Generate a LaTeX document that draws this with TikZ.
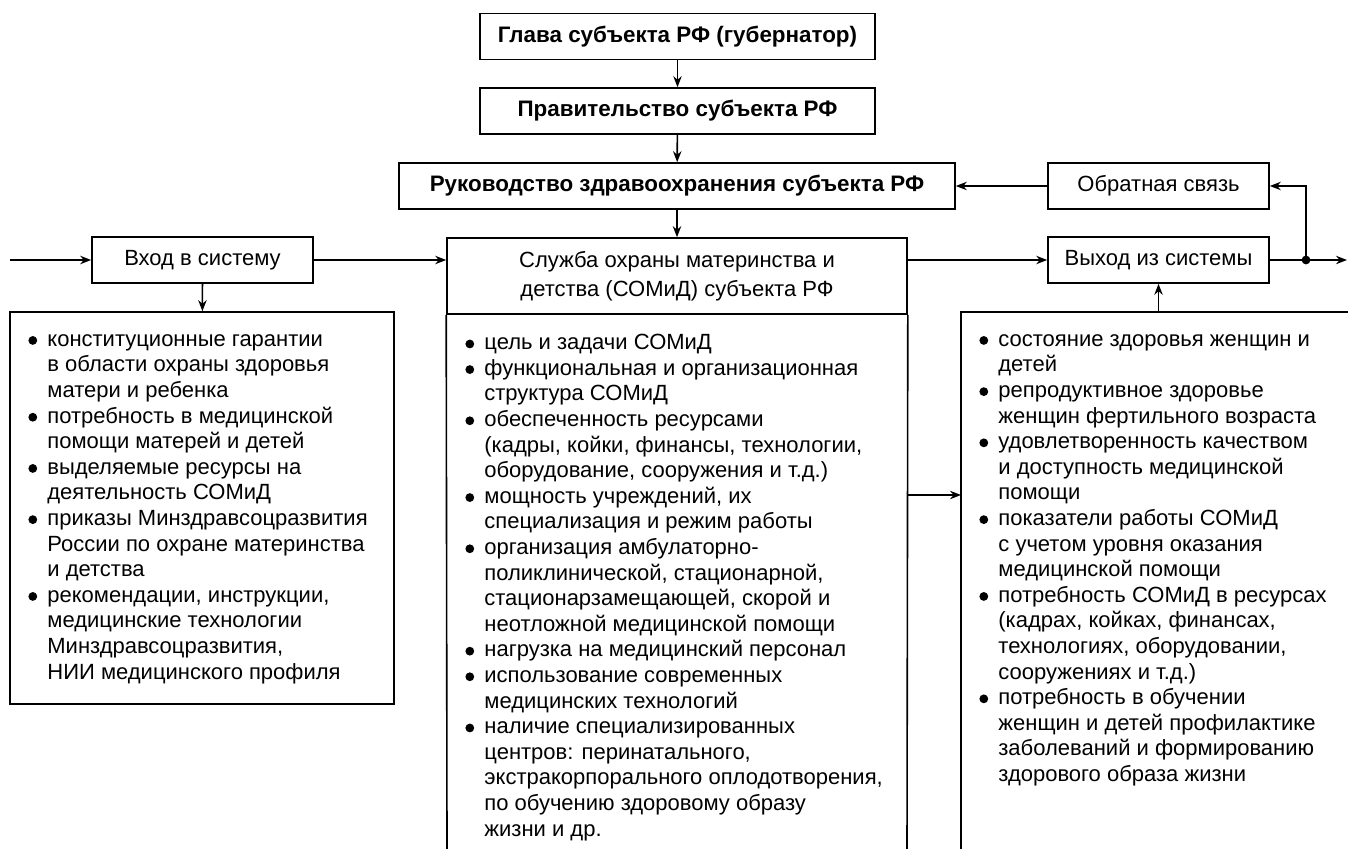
\documentclass[tikz,border=0pt]{standalone}
\usepackage{fontspec}
\setmainfont{Liberation Sans}
\usetikzlibrary{arrows.meta}
\newcommand\bitem{\makebox[9.5pt][l]{\tikz[baseline=0pt]\fill (2.2pt,2.9pt) circle (2.2pt);}}
\newcommand\cont{\hspace*{9.5pt}}
\begin{document}
\begin{tikzpicture}[x=0.5pt,y=-0.5pt,
  box/.style={draw, line width=0.8pt, inner sep=0pt, minimum height=23pt, font=\fontsize{11}{13}\selectfont},
  hd/.style={box, font=\fontsize{11.2}{13}\selectfont\bfseries},
  arr/.style={-{Stealth[length=5.5pt,width=4.2pt]}, line width=0.8pt},
  ln/.style={line width=0.8pt},
  lst/.style={anchor=north west, inner sep=0pt, align=left, font=\fontsize{11}{12.8}\selectfont}]
\useasboundingbox (0,0) rectangle (1348,849);
% top chain
\node[hd, minimum width=197.5pt] (gl) at (677.5,36.5) {Глава субъекта РФ (губернатор)};
\node[hd, minimum width=197.5pt] (pr) at (677.5,111) {Правительство субъекта РФ};
\node[hd, minimum width=278pt] (ru) at (677,186) {Руководство здравоохранения субъекта РФ};
\node[box, minimum width=110.5pt] (ob) at (1158.5,186) {Обратная связь};
\node[box, minimum width=110.5pt] (vh) at (202.5,260) {Вход в систему};
\node[box, minimum width=110.5pt] (vy) at (1158.5,260) {Выход из системы};
% centre box
\node[draw, line width=0.8pt, inner sep=0pt, minimum width=230pt, minimum height=38pt,
      align=center, font=\fontsize{11}{14.3}\selectfont] (sl) at (677,276)
      {Служба охраны материнства и\\детства (СОМиД) субъекта РФ};
\coordinate (slbl) at (447,849);
\coordinate (slbr) at (907,849);
\draw[ln] (sl.south west) -- (slbl);
\draw[ln] (sl.south east) -- (slbr);
% left box
\node[draw, line width=0.8pt, inner sep=0pt, minimum width=192pt, minimum height=196pt] (lb) at (202,508) {};
% right box
\coordinate (rtr) at (1348,312);
\coordinate (rtl) at (961,312);
\coordinate (rbl) at (961,849);
\draw[ln] (rtr) -- (rtl) -- (rbl);
% connectors
\draw[arr] (gl) -- (pr);
\draw[arr] (pr) -- (ru);
\draw[arr] (ru) -- (sl);
\draw[arr] (ob) -- (ru);
\coordinate (in) at (10,260);
\draw[arr] (in) -- (vh);
\draw[arr] (vh.east) -- (vh.east -| sl.west);
\draw[arr] (vy.west -| sl.east) -- (vy.west);
\coordinate (j) at (1306,260);
\coordinate (out) at (1347,260);
\draw[arr] (vy.east) -- (out);
\fill (j) circle (2.2pt);
\draw[arr] (j) |- (ob.east);
\draw[arr] (vh) -- (lb);
\draw[arr] (vy.south |- rtl) -- (vy.south);
\coordinate (ca) at (907,495);
\coordinate (cb) at (961,495);
\draw[arr] (ca) -- (cb);
% lists
\node[lst] (ll) at (28,334) {\bitem конституционные гарантии\\
\cont в области охраны здоровья\\
\cont матери и ребенка\\
\bitem потребность в медицинской\\
\cont помощи матерей и детей\\
\bitem выделяемые ресурсы на\\
\cont деятельность СОМиД\\
\bitem приказы Минздравсоцразвития\\
\cont России по охране материнства\\
\cont и детства\\
\bitem рекомендации, инструкции,\\
\cont медицинские технологии\\
\cont Минздравсоцразвития,\\
\cont НИИ медицинского профиля};
\node[lst] (cl) at (465,334) {\bitem цель и задачи СОМиД\\
\bitem функциональная и организационная\\
\cont структура СОМиД\\
\bitem обеспеченность ресурсами\\
\cont (кадры, койки, финансы, технологии,\\
\cont оборудование, сооружения и т.д.)\\
\bitem мощность учреждений, их\\
\cont специализация и режим работы\\
\bitem организация амбулаторно-\\
\cont поликлинической, стационарной,\\
\cont стационарзамещающей, скорой и\\
\cont неотложной медицинской помощи\\
\bitem нагрузка на медицинский персонал\\
\bitem использование современных\\
\cont медицинских технологий\\
\bitem наличие специализированных\\
\cont центров: перинатального,\\
\cont экстракорпорального оплодотворения,\\
\cont по обучению здоровому образу\\
\cont жизни и др.};
\node[lst] (rl) at (979,334) {\bitem состояние здоровья женщин и\\
\cont детей\\
\bitem репродуктивное здоровье\\
\cont женщин фертильного возраста\\
\bitem удовлетворенность качеством\\
\cont и доступность медицинской\\
\cont помощи\\
\bitem показатели работы СОМиД\\
\cont с учетом уровня оказания\\
\cont медицинской помощи\\
\bitem потребность СОМиД в ресурсах\\
\cont (кадрах, койках, финансах,\\
\cont технологиях, оборудовании,\\
\cont сооружениях и т.д.)\\
\bitem потребность в обучении\\
\cont женщин и детей профилактике\\
\cont заболеваний и формированию\\
\cont здорового образа жизни};
\end{tikzpicture}
\end{document}
